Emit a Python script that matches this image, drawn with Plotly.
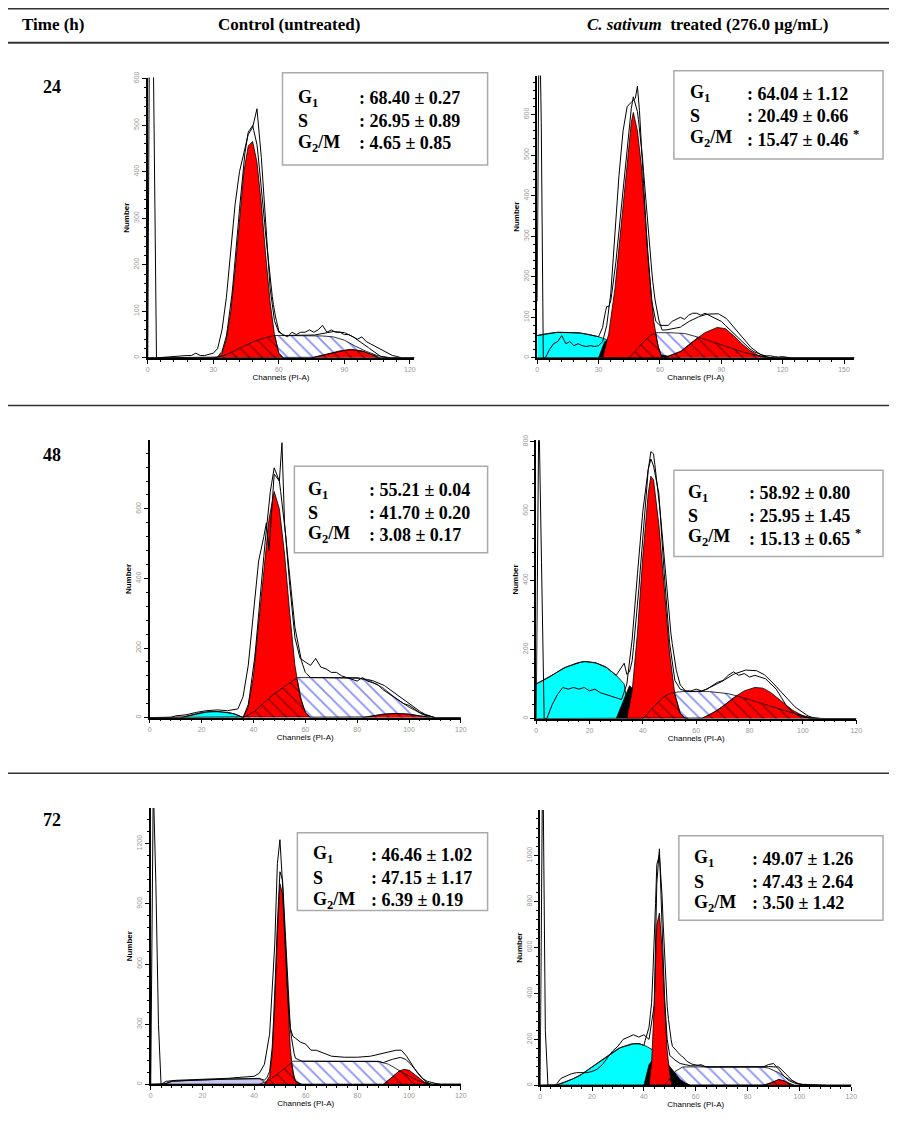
import numpy as np
import plotly.graph_objects as go

# ---------------- data ----------------
# 24 h control
c24_hist_x = [0, 1, 2, 3, 4, 18, 20, 22, 24, 26, 28, 30, 32, 34, 36, 38, 40, 42, 44, 46, 48, 50, 52, 54, 56, 58, 60, 62,
              64, 66, 68, 70, 72, 74, 76, 78, 80, 82, 84, 86, 88, 90, 92, 94, 96, 98, 100, 102, 104, 106, 108, 110, 112, 114, 116]
c24_hist_y = [0, 900, 900, 380, 0, 5, 5, 10, 5, 5, 8, 10, 20, 60, 130, 230, 330, 400, 440, 480, 495, 535, 430, 280, 150, 80,
              55, 50, 45, 55, 50, 55, 55, 60, 55, 60, 70, 55, 60, 55, 55, 50, 50, 45, 40, 45, 35, 30, 25, 20, 15, 10, 5, 3, 0]
c24_g1_x = [32, 34, 36, 38, 40, 42, 44, 46, 48, 50, 52, 54, 56, 58, 60, 62]
c24_g1_y = [0, 10, 40, 100, 190, 300, 400, 455, 465, 420, 330, 220, 120, 50, 10, 0]
c24_s_x = [30, 35, 40, 45, 50, 55, 58, 60, 70, 80, 85, 90, 95, 100, 105, 110]
c24_s_y = [0, 5, 15, 28, 38, 45, 48, 48, 48, 47, 45, 38, 25, 14, 5, 0]
c24_g2_x = [75, 82, 88, 93, 98, 102, 106]
c24_g2_y = [0, 8, 15, 18, 15, 8, 0]

# 24 h treated
t24_hist_x = [0, 1, 2, 3, 4, 6, 8, 10, 12, 14, 16, 18, 20, 22, 24, 26, 28, 30, 32, 34, 36, 38, 40, 42, 44, 46, 48, 49, 50,
              52, 54, 56, 58, 60, 62, 64, 66, 68, 70, 72, 74, 76, 78, 80, 82, 84, 86, 88, 90, 92, 94, 96, 98, 100, 102,
              104, 106, 108, 110, 112, 114, 116, 118, 120, 122, 124]
t24_hist_y = [140, 900, 580, 0, 0, 20, 35, 40, 55, 35, 40, 30, 35, 30, 28, 30, 28, 30, 40, 80, 160, 300, 450, 560, 620, 630,
              640, 670, 610, 430, 260, 140, 90, 80, 80, 80, 90, 95, 100, 95, 105, 110, 110, 105, 110, 105, 100, 95, 90, 80,
              70, 60, 50, 40, 30, 22, 15, 10, 7, 5, 5, 3, 2, 3, 2, 0]
t24_apo_x = [0, 5, 10, 15, 20, 25, 30, 34, 36]
t24_apo_y = [55, 60, 63, 63, 62, 58, 52, 45, 0]
t24_deb_x = [30, 33, 36, 40, 45, 50, 55, 60, 65, 70]
t24_deb_y = [0, 40, 45, 38, 30, 22, 15, 8, 3, 0]
t24_g1_x = [32, 35, 38, 41, 44, 46, 47, 49, 51, 53, 55, 57, 59, 61]
t24_g1_y = [0, 60, 170, 330, 490, 580, 605, 560, 470, 330, 200, 90, 30, 0]
t24_s_x = [45, 50, 55, 58, 65, 72, 78, 85, 92, 100, 108, 115]
t24_s_y = [0, 30, 55, 62, 62, 60, 52, 40, 28, 15, 5, 0]
t24_g2_x = [62, 70, 76, 82, 88, 92, 96, 100, 104, 108, 112]
t24_g2_y = [0, 15, 40, 62, 75, 72, 55, 35, 18, 6, 0]

# 48 h control
c48_hist_x = [0, 1, 2, 3, 8, 10, 14, 18, 22, 26, 30, 34, 36, 38, 40, 42, 44, 45, 46, 48, 50, 51, 52, 54, 56, 58, 60, 62, 64,
              66, 68, 70, 72, 74, 76, 78, 80, 82, 84, 86, 88, 90, 92, 94, 96, 98, 100, 102, 104, 106, 108, 110]
c48_hist_y = [0, 0, 0, 0, 0, 5, 8, 15, 20, 22, 20, 25, 60, 150, 300, 450, 520, 560, 480, 700, 680, 790, 560, 380, 230, 170,
              160, 150, 170, 145, 140, 130, 130, 120, 115, 110, 105, 115, 105, 100, 95, 80, 70, 60, 50, 40, 35, 25, 15, 8, 3, 0]
c48_apo_x = [12, 15, 20, 25, 30, 33, 36]
c48_apo_y = [0, 5, 15, 18, 15, 10, 0]
c48_g1_x = [36, 38, 40, 42, 44, 46, 48, 50, 52, 54, 56, 58, 60, 62]
c48_g1_y = [0, 30, 120, 260, 420, 570, 650, 600, 470, 300, 150, 60, 15, 0]
c48_s_x = [36, 40, 45, 50, 55, 57, 60, 70, 80, 85, 90, 95, 100, 105, 110]
c48_s_y = [0, 15, 50, 80, 105, 115, 115, 115, 115, 105, 85, 55, 30, 10, 0]
c48_g2_x = [82, 86, 90, 95, 100, 104, 108]
c48_g2_y = [0, 5, 10, 12, 10, 5, 0]

# 48 h treated
t48_hist_x = [0, 1, 2, 3, 4, 6, 8, 10, 12, 14, 16, 18, 20, 22, 24, 26, 28, 30, 32, 34, 36, 38, 40, 42, 43, 44, 46, 48, 50,
              52, 54, 56, 58, 60, 62, 64, 66, 68, 70, 72, 74, 76, 78, 80, 82, 84, 86, 88, 90, 92, 94, 96, 98, 100, 102, 104]
t48_hist_y = [0, 900, 450, 0, 0, 40, 70, 90, 85, 90, 85, 90, 80, 85, 75, 70, 65, 60, 55, 100, 230, 420, 600, 720, 750, 730,
              650, 420, 220, 110, 85, 80, 80, 85, 80, 85, 95, 105, 110, 125, 135, 125, 130, 120, 125, 120, 115, 100, 85, 60,
              35, 20, 10, 5, 3, 0]
t48_apo_x = [0, 5, 10, 15, 18, 22, 26, 30, 33, 35]
t48_apo_y = [100, 120, 145, 160, 165, 162, 150, 125, 100, 0]
t48_deb_x = [30, 33, 35, 37, 40, 43, 46, 50, 54, 57]
t48_deb_y = [0, 60, 95, 80, 60, 45, 30, 15, 5, 0]
t48_g1_x = [34, 36, 38, 40, 42, 43, 44, 46, 48, 50, 52, 54, 56]
t48_g1_y = [0, 80, 250, 470, 650, 700, 690, 560, 380, 190, 70, 15, 0]
t48_s_x = [40, 44, 48, 51, 55, 65, 72, 78, 84, 90, 96, 102, 106]
t48_s_y = [0, 35, 65, 75, 78, 78, 72, 60, 45, 30, 15, 5, 0]
t48_g2_x = [62, 66, 70, 74, 78, 82, 85, 88, 92, 96, 100, 103]
t48_g2_y = [0, 15, 35, 60, 80, 90, 88, 75, 50, 25, 8, 0]

# 72 h control
c72_hist_x = [0, 1, 2, 3, 4, 6, 10, 15, 20, 25, 30, 35, 40, 42, 44, 46, 48, 49, 50, 51, 52, 53, 54, 55, 56, 58, 60, 62, 64,
              66, 70, 75, 80, 85, 88, 92, 95, 97, 99, 101, 103, 105, 107, 110, 112]
c72_hist_y = [0, 1500, 1000, 300, 0, 15, 20, 22, 25, 28, 30, 35, 40, 55, 100, 250, 700, 1100, 1220, 1000, 700, 450, 280, 240,
              230, 210, 200, 170, 170, 160, 140, 135, 135, 140, 150, 160, 170, 170, 140, 100, 60, 30, 15, 5, 0]
c72_apo_x = [5, 8, 15, 25, 35, 42, 45]
c72_apo_y = [0, 15, 20, 25, 28, 30, 0]
c72_g1_x = [44, 46, 47, 48, 49, 50, 51, 52, 53, 54, 55, 56, 58]
c72_g1_y = [0, 40, 150, 400, 750, 1000, 950, 700, 400, 180, 60, 15, 0]
c72_s_x = [42, 45, 48, 52, 55, 60, 70, 80, 88, 92, 96, 100, 104, 108]
c72_s_y = [0, 15, 40, 80, 115, 115, 115, 115, 115, 100, 70, 40, 15, 0]
c72_g2_x = [90, 93, 96, 98, 100, 103, 106, 108]
c72_g2_y = [0, 30, 65, 75, 70, 40, 10, 0]

# 72 h treated
t72_hist_x = [0, 1, 2, 3, 6, 8, 10, 12, 14, 16, 18, 20, 22, 24, 26, 28, 30, 32, 34, 36, 38, 40, 42, 44, 45, 46, 47, 48, 49,
              50, 52, 54, 56, 58, 60, 62, 64, 66, 70, 74, 78, 82, 86, 88, 90, 92, 94, 96, 98, 100, 104, 108, 110]
t72_hist_y = [0, 1500, 240, 0, 0, 30, 40, 50, 55, 55, 55, 60, 70, 90, 120, 150, 170, 200, 210, 220, 210, 220, 200, 350, 880,
              1030, 700, 380, 200, 130, 110, 95, 90, 85, 85, 90, 80, 80, 80, 80, 80, 80, 80, 90, 95, 70, 40, 20, 10, 5, 3, 2, 0]
t72_apo_x = [6, 10, 15, 20, 25, 30, 35, 38, 41, 44, 47, 50, 53, 56, 60, 64]
t72_apo_y = [0, 15, 40, 80, 120, 160, 180, 182, 170, 150, 110, 70, 40, 20, 8, 0]
t72_deb_x = [40, 42, 44, 46, 48, 50, 52, 54, 56, 58]
t72_deb_y = [0, 90, 120, 130, 110, 80, 50, 25, 10, 0]
t72_g1_x = [42, 43, 44, 45, 46, 47, 48, 49, 50, 51]
t72_g1_y = [0, 100, 350, 700, 750, 600, 350, 150, 50, 0]
t72_s_x = [48, 52, 55, 70, 85, 88, 92, 96, 100, 103]
t72_s_y = [0, 60, 80, 80, 80, 75, 55, 25, 5, 0]
t72_g2_x = [86, 89, 92, 94, 96, 98]
t72_g2_y = [0, 10, 25, 20, 8, 0]

phases = ["G<sub>1</sub>", "S", "G<sub>2</sub>/M"]
c24_stats = ["68.40 ± 0.27", "26.95 ± 0.89", "4.65 ± 0.85"]
t24_stats = ["64.04 ± 1.12", "20.49 ± 0.66", "15.47 ± 0.46 <sup>*</sup>"]
c48_stats = ["55.21 ± 0.04", "41.70 ± 0.20", "3.08 ± 0.17"]
t48_stats = ["58.92 ± 0.80", "25.95 ± 1.45", "15.13 ± 0.65 <sup>*</sup>"]
c72_stats = ["46.46 ± 1.02", "47.15 ± 1.17", "6.39 ± 0.19"]
t72_stats = ["49.07 ± 1.26", "47.43 ± 2.64", "3.50 ± 1.42"]

# the page shows the figure offset by the body margin
OX, OY = 8, 11
W, H = 881, 1125
SERIF = "Liberation Serif"


def fx(px):
    return (px - OX) / W


def fy(py):
    return 1 - (py - OY) / H


panels = [
    dict(h=(c24_hist_x, c24_hist_y), apo=None, deb=None, g1=(c24_g1_x, c24_g1_y), s=(c24_s_x, c24_s_y),
         g2=(c24_g2_x, c24_g2_y), stats=c24_stats, apoc="cyan",
         px=(147, 416, 357, 75), xr=122, yr=602, xd=30, yd=100,
         box=(283, 490, 70, 163), rows=(96, 119, 141), lx=297, vx=358),
    dict(h=(t24_hist_x, t24_hist_y), apo=(t24_apo_x, t24_apo_y), deb=(t24_deb_x, t24_deb_y), g1=(t24_g1_x, t24_g1_y),
         s=(t24_s_x, t24_s_y), g2=(t24_g2_x, t24_g2_y), stats=t24_stats, apoc="cyan",
         px=(540, 860, 357, 73), xr=155, yr=696, xd=30, yd=100,
         box=(678, 889, 68, 157), rows=(91, 114, 136), lx=692, vx=750),
    dict(h=(c48_hist_x, c48_hist_y), apo=(c48_apo_x, c48_apo_y), deb=None, g1=(c48_g1_x, c48_g1_y),
         s=(c48_s_x, c48_s_y), g2=(c48_g2_x, c48_g2_y), stats=c48_stats, apoc="cyan",
         px=(149, 463, 719, 440), xr=120, yr=797, xd=20, yd=200,
         box=(295, 490, 466, 553), rows=(490, 513, 535), lx=307, vx=368),
    dict(h=(t48_hist_x, t48_hist_y), apo=(t48_apo_x, t48_apo_y), deb=(t48_deb_x, t48_deb_y), g1=(t48_g1_x, t48_g1_y),
         s=(t48_s_x, t48_s_y), g2=(t48_g2_x, t48_g2_y), stats=t48_stats, apoc="cyan",
         px=(539, 862, 720, 440), xr=120, yr=804, xd=20, yd=200,
         box=(678, 889, 470, 557), rows=(493, 516, 538), lx=690, vx=752),
    dict(h=(c72_hist_x, c72_hist_y), apo=(c72_apo_x, c72_apo_y), deb=None, g1=(c72_g1_x, c72_g1_y),
         s=(c72_s_x, c72_s_y), g2=(c72_g2_x, c72_g2_y), stats=c72_stats, apoc="#c8c8f0",
         px=(150, 463, 1088, 810), xr=120, yr=1378, xd=20, yd=300,
         box=(298, 490, 835, 913), rows=(857, 880, 903), lx=312, vx=370),
    dict(h=(t72_hist_x, t72_hist_y), apo=(t72_apo_x, t72_apo_y), deb=(t72_deb_x, t72_deb_y), g1=(t72_g1_x, t72_g1_y),
         s=(t72_s_x, t72_s_y), g2=(t72_g2_x, t72_g2_y), stats=t72_stats, apoc="cyan",
         px=(543, 857, 1089, 812), xr=120, yr=1199, xd=20, yd=200,
         box=(683, 889, 838, 923), rows=(861, 884, 906), lx=696, vx=755),
]

fig = go.Figure()
grid = np.arange(0, 160.5, 0.5)


def on_grid(comp):
    if comp is None:
        return np.zeros_like(grid)
    return np.interp(grid, comp[0], comp[1], left=0, right=0)


def area(comp, color, xa, ya, pattern=None):
    kw = dict(x=comp[0], y=comp[1], mode="lines", fill="tozeroy", line=dict(color="black", width=0.8),
              fillcolor=color, xaxis=xa, yaxis=ya, showlegend=False, hoverinfo="skip")
    if pattern:
        kw["fillpattern"] = pattern
    fig.add_trace(go.Scatter(**kw))


for i, p in enumerate(panels, start=1):
    xa, ya = f"x{i}", f"y{i}"
    x0, x1, yb, yt = p["px"]
    if p["apo"]:
        area(p["apo"], p["apoc"], xa, ya)
    area(p["s"], "white", xa, ya, dict(shape="\\", fgcolor="#1020ff", bgcolor="white", size=9, solidity=0.2))
    if p["deb"]:
        area(p["deb"], "black", xa, ya)
    area(p["g1"], "red", xa, ya)
    area(p["g2"], "red", xa, ya)
    s_g = on_grid(p["s"])
    for comp in (p["g1"], p["g2"]):
        ov = np.minimum(s_g, on_grid(comp))
        area((grid, ov), "rgba(0,0,0,0)", xa, ya, dict(shape="\\", fgcolor="black", size=9, solidity=0.15,
                                                      fillmode="overlay"))
    fit = on_grid(p["apo"]) + on_grid(p["deb"]) + on_grid(p["g1"]) + s_g + on_grid(p["g2"])
    fig.add_trace(go.Scatter(x=grid, y=fit, mode="lines", line=dict(color="black", width=1),
                             xaxis=xa, yaxis=ya, showlegend=False, hoverinfo="skip"))
    fig.add_trace(go.Scatter(x=p["h"][0], y=p["h"][1], mode="lines", line=dict(color="black", width=1),
                             xaxis=xa, yaxis=ya, showlegend=False, hoverinfo="skip"))

    tickfont = dict(size=7, color="#999999", family="Liberation Sans")
    fig.layout[f"xaxis{i}"] = dict(domain=[fx(x0), fx(x1)], anchor=ya, range=[0, p["xr"]], dtick=p["xd"],
                                   showline=True, linecolor="black", linewidth=1.5, ticks="outside", ticklen=4,
                                   tickcolor="black", minor=dict(ticks="outside", ticklen=2, dtick=p["xd"] / 5,
                                                                 tickcolor="black"),
                                   showgrid=False, zeroline=False, tickfont=tickfont,
                                   title=dict(text="Channels (PI-A)", standoff=2,
                                              font=dict(size=8, family="Liberation Sans", color="black")))
    fig.layout[f"yaxis{i}"] = dict(domain=[fy(yb), fy(yt)], anchor=xa, range=[0, p["yr"]], dtick=p["yd"],
                                   showline=True, linecolor="black", linewidth=1.5, ticks="outside", ticklen=4,
                                   tickcolor="black", minor=dict(ticks="outside", ticklen=2, dtick=p["yd"] / 5,
                                                                 tickcolor="black"),
                                   showgrid=False, zeroline=False, tickfont=tickfont, tickangle=-90,
                                   title=dict(text="<b>Number</b>", standoff=2,
                                              font=dict(size=8, family="Liberation Sans", color="black")))

    bx0, bx1, by0, by1 = p["box"]
    fig.add_shape(type="rect", xref="paper", yref="paper", x0=fx(bx0), x1=fx(bx1), y0=fy(by1), y1=fy(by0),
                  line=dict(color="#aaaaaa", width=1.5), fillcolor="white", layer="above")
    for ry, ph, val in zip(p["rows"], phases, p["stats"]):
        fig.add_annotation(x=fx(p["lx"]), y=fy(ry), xref="paper", yref="paper", text=f"<b>{ph}</b>",
                           showarrow=False, xanchor="left", yanchor="middle",
                           font=dict(size=18, family=SERIF, color="black"))
        fig.add_annotation(x=fx(p["vx"]), y=fy(ry), xref="paper", yref="paper", text=f"<b>: {val}</b>",
                           showarrow=False, xanchor="left", yanchor="middle",
                           font=dict(size=18, family=SERIF, color="black"))

# table frame
for yy, wd in [(5, 3), (40, 2), (405, 1.5), (775, 1.5)]:
    fig.add_shape(type="line", xref="paper", yref="paper", x0=fx(0), x1=fx(897), y0=fy(yy), y1=fy(yy),
                  line=dict(color="#333333", width=wd))

headers = [("<b>Time (h)</b>", 52), ("<b>Control (untreated)</b>", 290),
           ("<b><i>C. sativum</i>  treated (276.0 µg/mL)</b>", 712)]
for txt, hx in headers:
    fig.add_annotation(x=fx(hx), y=fy(22), xref="paper", yref="paper", text=txt, showarrow=False,
                       xanchor="center", yanchor="middle", font=dict(size=17, family=SERIF, color="black"))
for txt, ry in [("24", 84), ("48", 455), ("72", 822)]:
    fig.add_annotation(x=fx(50), y=fy(ry), xref="paper", yref="paper", text=f"<b>{txt}</b>", showarrow=False,
                       xanchor="center", yanchor="middle", font=dict(size=18, family=SERIF, color="black"))

fig.update_layout(width=W, height=H, margin=dict(l=0, r=0, t=0, b=0), paper_bgcolor="white",
                  plot_bgcolor="white", showlegend=False)
fig.write_html("out.html")
